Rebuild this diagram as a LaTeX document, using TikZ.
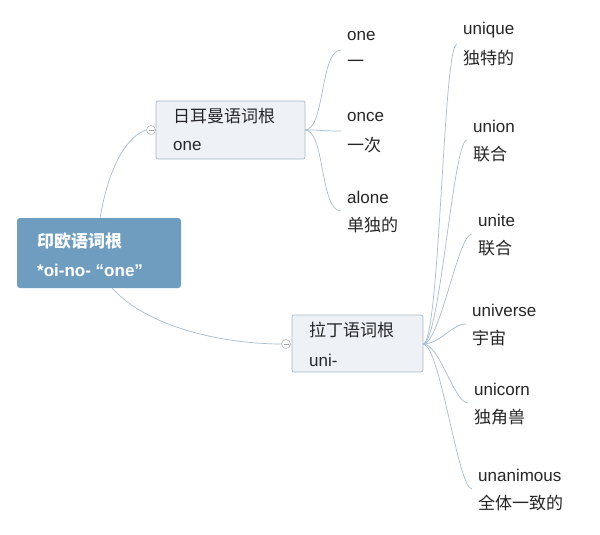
\documentclass[tikz,border=0pt]{standalone}
\usepackage{fontspec}
\setmainfont{Liberation Sans}
\newfontfamily\cjk{Noto Sans CJK SC}
\begin{document}
\begin{tikzpicture}[x=1pt,y=-1pt,
  conn/.style={draw=lineblue,line width=0.7pt},
  sub/.style={draw=boxedge,fill=boxfill,rounded corners=2pt,line width=0.7pt},
  lbl/.style={anchor=west,font=\fontsize{17}{19}\selectfont,text=black!85,inner sep=0pt},
  knob/.style={circle,draw=gray!70,fill=white,inner sep=0pt,minimum size=9pt,
    path picture={\draw[gray!70] ([xshift=-2.5pt]path picture bounding box.center) -- ([xshift=2.5pt]path picture bounding box.center);}}]
\definecolor{lineblue}{HTML}{A6BDD0}
\definecolor{boxedge}{HTML}{A8BACB}
\definecolor{boxfill}{HTML}{EEF2F7}
\definecolor{rootfill}{HTML}{6E9DBF}
\fill[white!96!blue!2] (0,0) rectangle (600,535);
\useasboundingbox (0,0) rectangle (600,535);
% root
\fill[rootfill,rounded corners=3pt] (17,218) rectangle (181,288);
\node[lbl,text=white,font=\fontsize{17}{19}\selectfont\bfseries] (r1) at (37,241) {\cjk 印欧语词根};
\node[lbl,text=white,font=\fontsize{17}{19}\selectfont\bfseries] (r2) at (37,270) {*oi-no- “one”};
\coordinate (rt) at (100,218);
\coordinate (rb) at (112,288);
% German
\draw[sub] (156,101) rectangle (305,159);
\coordinate (g) at (305,130);
\node[lbl] (g1) at (173,116) {\cjk 日耳曼语词根};
\node[lbl] (g2) at (173,146) {one};
\node[knob] (gk) at (151,130) {};
% Latin
\draw[sub] (292,315) rectangle (423,372);
\coordinate (l) at (423,344);
\node[lbl] (l1) at (309,330) {\cjk 拉丁语词根};
\node[lbl] (l2) at (309,360) {uni-};
\node[knob] (lk) at (286,344) {};
% root connectors
\draw[conn] (rt) .. controls (110,160) and (130,135) .. (gk.west);
\draw[conn] (rb) .. controls (150,330) and (230,344) .. (lk.west);
% German leaves
\foreach \n/\a/\b/\y in {a/one/一/36, b/once/一次/117, c/alone/单独的/197}{
  \node[lbl] (w\n) at (347,\y) {\a};
  \node[lbl] (v\n) at (347,\y+28) {\cjk \b};
  \coordinate (p\n) at (341,\y+14);
  \draw[conn] (g) .. controls (325,130) and (320,\y+14) .. (p\n);
}
% Latin leaves
\foreach \n/\x/\y/\a/\b in {a/463/30/unique/独特的, b/473/126/union/联合, c/478/220/unite/联合, d/472/310/universe/宇宙, e/474/389/unicorn/独角兽, f/478/475/unanimous/全体一致的}{
  \node[lbl] (u\n) at (\x,\y) {\a};
  \node[lbl] (t\n) at (\x,\y+28) {\cjk \b};
  \coordinate (q\n) at (\x-6,\y+14);
  \draw[conn] (l) .. controls (440,344) and (\x-20,\y+14) .. (q\n);
}
\end{tikzpicture}
\end{document}
